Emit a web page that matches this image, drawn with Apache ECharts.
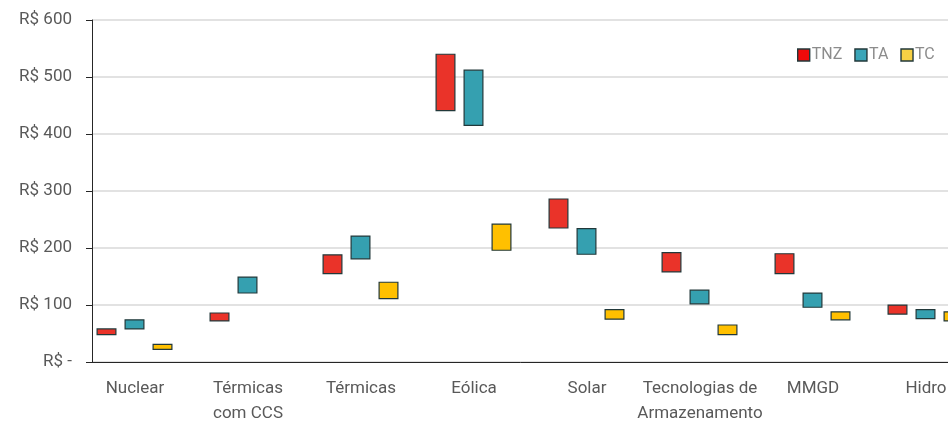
<!DOCTYPE html>
<html><head><meta charset="utf-8">
<script src="https://cdn.jsdelivr.net/npm/echarts@6/dist/echarts.min.js"></script>
<style>html,body{margin:0;padding:0;background:#fff}#c{width:948px;height:421px}</style>
</head><body><div id="c"></div>
<script>
const categories = ['Nuclear', 'Térmicas\ncom CCS', 'Térmicas', 'Eólica', 'Solar', 'Tecnologias de\nArmazenamento', 'MMGD', 'Hidro'];
const seriesNames = ['TNZ', 'TA', 'TC'];
const tnzLow  = [47, 71, 154, 440, 234, 157, 154, 83];
const tnzHigh = [59, 87, 189, 541, 287, 193, 191, 101];
const taLow   = [57, 120, 180, 414, 188, 101, 95, 75];
const taHigh  = [75, 150, 222, 513, 235, 127, 122, 93];
const tcLow   = [21, '-', 110, 195, 74, 47, 73, 71];
const tcHigh  = [32, '-', 141, 243, 93, 66, 89, 89];
const yTickLabels = ['R$ -', 'R$ 100', 'R$ 200', 'R$ 300', 'R$ 400', 'R$ 500', 'R$ 600'];

const colors = ['#EA3329', '#35A0B0', '#FFC000'];
const legendColors = ['#F00A0A', '#3AA5B8', '#F7D044'];
const font = 'Roboto';
function diff(lo, hi) { return hi.map((h, i) => (h === '-' || lo[i] === '-') ? '-' : h - lo[i]); }
const lows = [tnzLow, taLow, tcLow], highs = [tnzHigh, taHigh, tcHigh];
const series = [];
seriesNames.forEach((n, k) => {
  series.push({ name: n + '_base', type: 'bar', stack: n, data: lows[k], barWidth: 20, barGap: '40%',
    itemStyle: { color: 'transparent' }, silent: true });
  series.push({ name: n, type: 'bar', stack: n, data: diff(lows[k], highs[k]), barWidth: 20, barGap: '40%',
    itemStyle: { color: colors[k], borderColor: '#22383a', borderWidth: 1.2 } });
});
// empty spacer slot (as in the original clustered layout)
series.push({ name: 'spacer', type: 'bar', stack: 'spacer', data: categories.map(() => '-'), barWidth: 20, barGap: '40%' });

const chart = echarts.init(document.getElementById('c'));
chart.setOption({
  animation: false,
  backgroundColor: '#fff',
  color: colors,
  grid: { left: 92, top: 20, width: 904, height: 342, containLabel: false, outerBoundsMode: 'none' },
  legend: {
    data: seriesNames.map((n, k) => ({ name: n, itemStyle: { color: legendColors[k] } })),
    left: 792, top: 42, itemWidth: 12, itemHeight: 12, itemGap: 12,
    icon: 'rect', textStyle: { color: '#8c8c8c', fontFamily: font, fontSize: 16, padding: [0, 0, 0, -3] },
    itemStyle: { borderColor: '#22383a', borderWidth: 1.4 }
  },
  xAxis: {
    type: 'category', data: categories,
    axisLine: { lineStyle: { color: '#262626', width: 1 } },
    axisTick: { show: false },
    axisLabel: { interval: 0, color: '#595959', fontFamily: font, fontSize: 17, lineHeight: 25, margin: 14, padding: [0, 27, 0, 0] }
  },
  yAxis: {
    type: 'value', min: 0, max: 600, interval: 100,
    axisLine: { show: true, lineStyle: { color: '#262626', width: 1 } },
    axisTick: { show: true, length: 6, lineStyle: { color: '#262626' } },
    axisLabel: { color: '#595959', fontFamily: font, fontSize: 17, margin: 20,
      formatter: v => yTickLabels[Math.round(v / 100)] },
    splitLine: { lineStyle: { color: '#d9d9d9', width: 1.5 } }
  },
  series: series
});
</script></body></html>
